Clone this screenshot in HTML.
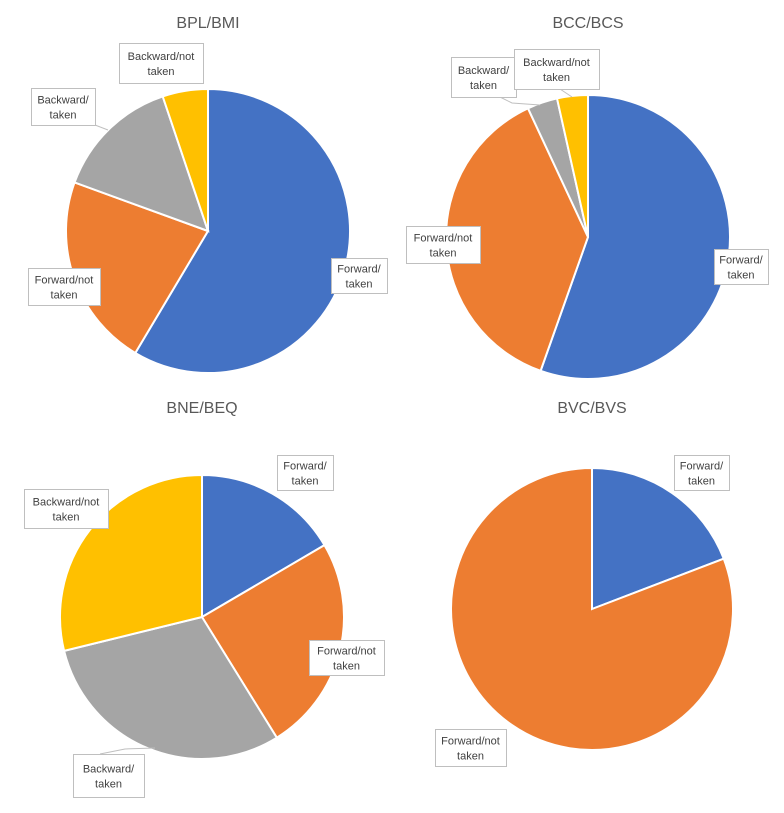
<!DOCTYPE html><html><head><style>body{margin:0;background:#fff}svg{display:block}text{font-family:"Liberation Sans",sans-serif}</style></head><body>
<svg id="s" width="784" height="813" xmlns="http://www.w3.org/2000/svg">
<text x="208" y="28" font-size="16" fill="#595959" text-anchor="middle">BPL/BMI</text>
<text x="588" y="28" font-size="16" fill="#595959" text-anchor="middle">BCC/BCS</text>
<text x="202" y="413" font-size="16" fill="#595959" text-anchor="middle">BNE/BEQ</text>
<text x="592" y="413" font-size="16" fill="#595959" text-anchor="middle">BVC/BVS</text>
<g id="pies"></g>
<g stroke="#bfbfbf" fill="none">
<path d="M95,125 L108,130"/>
<path d="M500,97 L512,103 L540,105"/>
<path d="M560,89 L572,97"/>
<path d="M100,754 L125,749 L155,748"/>
</g>
<g id="labels"></g>
</svg>
<script>
var C=["#4472c4","#ed7d31","#a5a5a5","#ffc000"];
var pies=[[208,231,142,[0,210.8,290,341.4,360]],[588,237,142,[0,199.5,335,347.4,360]],[202,617,142,[0,59.6,148.2,256.2,360]],[592,609,141,[0,69.1,360]]];
var g=document.getElementById('pies'),h='';
function pt(cx,cy,r,a){a=a*Math.PI/180;return [cx+r*Math.sin(a),cy-r*Math.cos(a)];}
pies.forEach(function(p){var cx=p[0],cy=p[1],r=p[2],a=p[3];for(var i=0;i<a.length-1;i++){var s=pt(cx,cy,r,a[i]),e=pt(cx,cy,r,a[i+1]),l=(a[i+1]-a[i])>180?1:0;h+='<path d="M'+cx+','+cy+' L'+s[0]+','+s[1]+' A'+r+','+r+' 0 '+l+' 1 '+e[0]+','+e[1]+' Z" fill="'+C[i]+'" stroke="#fff" stroke-width="2"/>';}});
g.innerHTML=h;
var L=[[119,43,84,40,"Backward/not","taken"],[31,88,64,37,"Backward/","taken"],[28,268,72,37,"Forward/not","taken"],[331,258,56,35,"Forward/","taken"],
[451,57,65,40,"Backward/","taken"],[514,49,85,40,"Backward/not","taken"],[406,226,74,37,"Forward/not","taken"],[714,249,54,35,"Forward/","taken"],
[277,455,56,35,"Forward/","taken"],[24,489,84,39,"Backward/not","taken"],[309,640,75,35,"Forward/not","taken"],[73,754,71,43,"Backward/","taken"],
[674,455,55,35,"Forward/","taken"],[435,729,71,37,"Forward/not","taken"]];
var k='';L.forEach(function(b){var cx=b[0]+b[2]/2,cy=b[1]+b[3]/2;k+='<rect x="'+b[0]+'.5" y="'+b[1]+'.5" width="'+b[2]+'" height="'+b[3]+'" fill="#fff" stroke="#bfbfbf"/><text x="'+cx+'" y="'+(cy-3)+'" font-size="11" fill="#404040" text-anchor="middle">'+b[4]+'</text><text x="'+cx+'" y="'+(cy+12)+'" font-size="11" fill="#404040" text-anchor="middle">'+b[5]+'</text>';});
document.getElementById('labels').innerHTML=k;
</script>
</body></html>
